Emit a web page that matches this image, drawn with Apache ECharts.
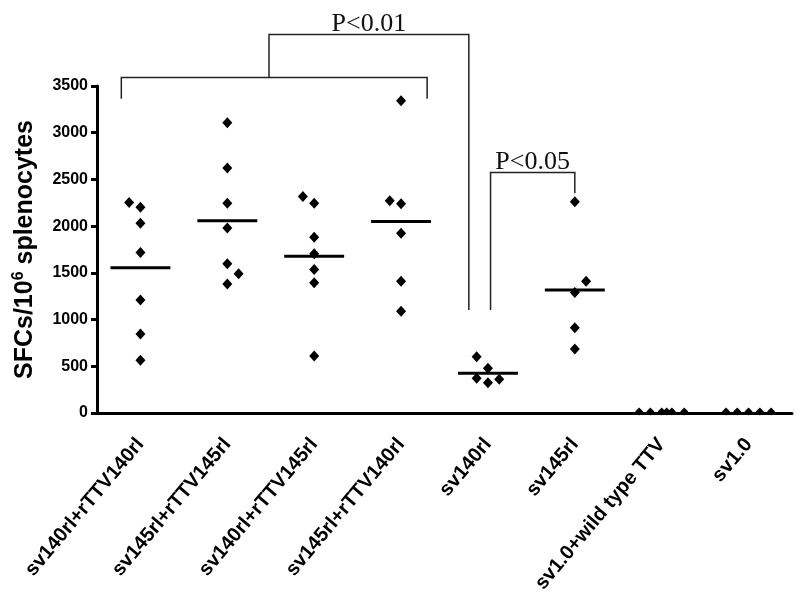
<!DOCTYPE html>
<html>
<head>
<meta charset="utf-8">
<script src="https://cdn.jsdelivr.net/npm/echarts@6/dist/echarts.min.js"></script>
<style>html,body{margin:0;padding:0;background:#fff;}#c{width:800px;height:608px;}</style>
</head>
<body>
<div id="c"></div>
<script>
const categories = ['sv140rl+rTTV140rl','sv145rl+rTTV145rl','sv140rl+rTTV145rl','sv145rl+rTTV140rl','sv140rl','sv145rl','sv1.0+wild type TTV','sv1.0'];
const g1 = [2254, 2201, 2030, 1719, 1209, 845, 564];
const g2 = [3106, 2622, 2244, 1980, 1598, 1491, 1380];
const g3 = [2318, 2244, 1880, 1705, 1537, 1394, 610];
const g4 = [3342, 2272, 2240, 1923, 1409, 1088];
const g5 = [602, 478, 371, 324, 360];
const g6 = [2261, 1409, 1291, 913, 685];
const g7 = [0, 0, 0, 0, 0, 0];
const g8 = [0, 0, 0, 0, 0];
const groupValues = [g1, g2, g3, g4, g5, g6, g7, g8];
// horizontal jitter steps (as in the dot plot)
const j1 = [-1, 0, 0, 0, 0, 0, 0];
const j2 = [0, 0, 0, 0, 0, 1, 0];
const j3 = [-1, 0, 0, 0, 0, 0, 0];
const j4 = [0, -1, 0, 0, 0, 0];
const j5 = [-1, 0, -1, 0, 1];
const j6 = [0, 1, 0, 0, 0];
const j7 = [-2, -1, 0, 0.45, 0.9, 2];
const j8 = [-2, -1, 0, 1, 2];
const groupJitter = [j1, j2, j3, j4, j5, j6, j7, j8];
const medians = [1555, 2058, 1677, 2051, 425, 1316, 0, 0];
const yMin = 0, yMax = 3500, yInterval = 500;

// significance brackets (data coordinates)
const bracketLower = [[-0.22, 3363], [-0.22, 3592], [3.30, 3592], [3.30, 3363]];
const bracketUpper = [[1.48, 3592], [1.48, 4052], [3.78, 4052], [3.78, 1102]];
const bracketRight = [[4.03, 1102], [4.03, 2575], [5.0, 2575], [5.0, 2351]];
const pLabels = [{ text: 'P<0.01', at: [2.63, 4052] }, { text: 'P<0.05', at: [4.515, 2575] }];

const JSTEP = 0.13;
const points = [], zeroPoints = [];
groupValues.forEach((arr, gi) => arr.forEach((v, k) => {
  const pt = [gi + groupJitter[gi][k] * JSTEP, v];
  (v === 0 ? zeroPoints : points).push(pt);
}));
const medianData = medians.map((m, i) => [i, m]).filter(d => d[1] > 0);

const chart = echarts.init(document.getElementById('c'));
const font = 'Liberation Sans, Arial, sans-serif';
chart.setOption({
  animation: false,
  backgroundColor: '#fff',
  grid: { left: 97, right: 8, top: 86, bottom: 195, containLabel: false },
  xAxis: [{
    type: 'category', data: categories, boundaryGap: true, z: 5,
    axisLine: { lineStyle: { color: '#000', width: 3 } },
    axisTick: { alignWithLabel: true, length: 6, lineStyle: { color: '#000', width: 3 } },
    axisLabel: { rotate: 50, color: '#000', fontFamily: font, fontWeight: 'bold', fontSize: 20, margin: 28 },
    splitLine: { show: false }
  }, {
    type: 'value', min: -0.5, max: 7.5, show: false
  }],
  yAxis: {
    type: 'value', min: yMin, max: yMax, interval: yInterval, z: 5,
    name: '{a|SFCs/10}{s|6}{a| splenocytes}',
    nameLocation: 'middle', nameGap: 58, nameRotate: 90,
    nameTextStyle: {
      rich: {
        a: { fontFamily: font, fontWeight: 'bold', fontSize: 25, color: '#000' },
        s: { fontFamily: font, fontWeight: 'bold', fontSize: 16, color: '#000', verticalAlign: 'top', padding: [0, 0, 12, 0] }
      }
    },
    axisLine: { show: true, onZero: false, lineStyle: { color: '#000', width: 3 } },
    axisTick: { show: true, length: 6, lineStyle: { color: '#000', width: 3 } },
    axisLabel: { color: '#000', fontFamily: font, fontWeight: 'bold', fontSize: 16, margin: 9, formatter: v => String(v) },
    splitLine: { show: false }
  },
  series: [{
    type: 'scatter', xAxisIndex: 1, data: points, symbol: 'diamond', symbolSize: [10, 11],
    itemStyle: { color: '#000', opacity: 1 }, z: 3
  }, {
    type: 'scatter', xAxisIndex: 1, data: zeroPoints, symbol: 'diamond', symbolSize: [8, 8],
    symbolOffset: [0, -1.5], itemStyle: { color: '#000', opacity: 1 }, z: 1
  }, {
    type: 'custom', xAxisIndex: 1, data: medianData, z: 2,
    renderItem: function (params, api) {
      const x = api.value(0), v = api.value(1);
      const p1 = api.coord([x - 0.345, v]);
      const p2 = api.coord([x + 0.345, v]);
      return { type: 'line', shape: { x1: p1[0], y1: p1[1], x2: p2[0], y2: p2[1] }, style: { stroke: '#000', lineWidth: 3 } };
    }
  }]
});

function toPx(pt) { return chart.convertToPixel({ xAxisIndex: 1, yAxisIndex: 0 }, pt); }
const graphics = [];
[bracketLower, bracketUpper, bracketRight].forEach(b => {
  graphics.push({ type: 'polyline', shape: { points: b.map(toPx) }, style: { stroke: '#222', lineWidth: 1.5, fill: null }, z: 10 });
});
pLabels.forEach(l => {
  const p = toPx(l.at);
  graphics.push({ type: 'text', x: p[0], y: p[1] + 3, style: { text: l.text, fontFamily: 'Liberation Serif, Times New Roman, serif', fontSize: 26, fill: '#111', align: 'center', verticalAlign: 'bottom' }, z: 10 });
});
chart.setOption({ graphic: graphics });
</script>
</body>
</html>
